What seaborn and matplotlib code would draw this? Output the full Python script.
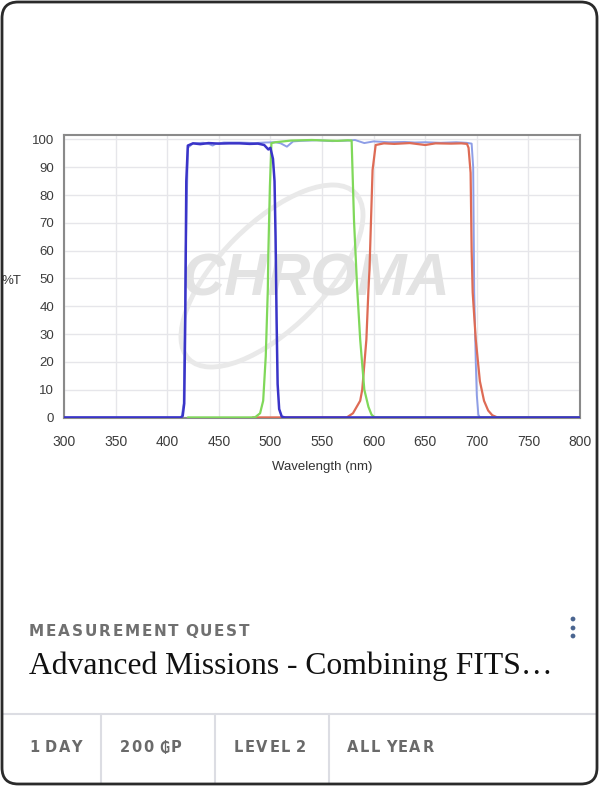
import matplotlib
matplotlib.use("Agg")
import numpy as np
import pandas as pd
import matplotlib.pyplot as plt
import seaborn as sns
from matplotlib.patches import FancyBboxPatch, Arc, Circle
from matplotlib.transforms import IdentityTransform

# Filter transmission curves (wavelength nm, %T)
blue_nm = [300, 413, 415, 416.5, 417.5, 418.5, 420, 425, 432, 440, 450, 460, 470, 480, 488,
           494, 498, 500, 502.5, 504, 505, 506, 507, 508.5, 511, 514, 800]
blue_t = [0, 0, 0.5, 5, 35, 85, 97.8, 98.6, 98.3, 98.7, 98.5, 98.6, 98.6, 98.4, 98.5,
          98.0, 96.4, 97.0, 93, 85, 65, 35, 12, 3, 0.3, 0, 0]

lav_nm = [300, 414, 416, 418, 420, 425, 435, 441, 444, 447, 455, 470, 485, 495, 505, 510,
          516, 522, 530, 545, 560, 575, 582, 591, 600, 615, 630, 640, 650, 665, 680, 690,
          695, 696.5, 697.5, 699, 700, 701.5, 703, 800]
lav_t = [0, 0, 5, 60, 97, 98.6, 98.8, 98.3, 97.8, 98.4, 98.9, 98.9, 98.7, 98.9, 99.0, 98.6,
         97.4, 99.3, 99.5, 99.7, 99.4, 99.6, 99.8, 98.7, 99.3, 99.0, 99.1, 98.9, 99.0, 98.8,
         99.0, 98.8, 98.5, 90, 45, 20, 8, 1, 0, 0]

green_nm = [420, 485, 490, 493, 495.5, 496.5, 497.5, 498, 499.5, 501, 505, 520, 540, 555,
            565, 575, 578.7, 581, 584, 587, 591, 595, 598, 601, 800]
green_t = [0, 0, 1.5, 6, 22, 34, 46, 59, 83, 98.7, 99.0, 99.6, 99.8, 99.6, 99.5, 99.7,
           99.6, 71, 47, 28, 10, 3.8, 1, 0, 0]

red_nm = [483, 574, 580, 587, 589, 593, 595, 596, 597.5, 599, 602, 610, 620, 635, 650, 660,
          675, 685, 690.5, 692, 694, 695, 696, 699, 703, 707, 711, 715, 720, 800]
red_t = [0, 0, 1.5, 6, 10, 28, 46, 53, 71, 89, 98, 98.6, 98.4, 98.7, 98.0, 98.6,
         98.5, 98.6, 98.4, 97, 88, 60, 45, 28, 13, 6, 2.5, 0.8, 0, 0]

y_ticks = list(range(0, 101, 10))
x_ticks = list(range(300, 801, 50))

category = "MEASUREMENT QUEST"
title = "Advanced Missions - Combining FITS\u2026"
footer = ["1 DAY", "200 \u20b2P", "LEVEL 2", "ALL YEAR"]

W, H = 600, 786
sns.set_style("white")
fig = plt.figure(figsize=(W / 100, H / 100), dpi=100)
fig.patch.set_facecolor("white")


def fx(x):
    return x / W


def fy(y):
    return 1 - y / H


# card outline
card = FancyBboxPatch((fx(2), fy(784)), fx(595), 782 / H,
                      boxstyle="round,pad=0,rounding_size=0.027",
                      transform=fig.transFigure, facecolor="none",
                      edgecolor="#2a2a2a", linewidth=2, mutation_aspect=W / H, zorder=10)
fig.patches.append(card)

ax = fig.add_axes([fx(64), fy(418), fx(516), 283 / H])
ax.set_facecolor("white")

curves = [("lav", lav_nm, lav_t, "#8e9ee6", 1.4, 2),
          ("red", red_nm, red_t, "#de6b55", 1.6, 3),
          ("green", green_nm, green_t, "#80d85a", 1.6, 4),
          ("blue", blue_nm, blue_t, "#3a34c8", 1.8, 5)]
for name, xs, ys, col, lw, z in curves:
    df = pd.DataFrame({"nm": xs, "T": ys})
    sns.lineplot(data=df, x="nm", y="T", ax=ax, color=col, linewidth=lw,
                 sort=False, estimator=None, zorder=z)

# faint watermark, placed in pixel coordinates
px = IdentityTransform()
ax.add_patch(Arc((272, H - 276), 235, 105, angle=45, theta1=0, theta2=360,
                 color="#e9e9e9", linewidth=3.5, zorder=1, transform=px))
ax.text(315, H - 280, "CHROMA", ha="center", va="center", fontsize=43, fontweight="bold",
        fontstyle="italic", color="#e3e3e3", zorder=1.5, family="Liberation Sans",
        transform=px)

ax.set_xlim(300, 800)
ax.set_ylim(-0.2, 101.6)
ax.set_xticks(x_ticks)
ax.set_yticks(y_ticks)
ax.grid(True, color="#e6e6ea", linewidth=1)
ax.set_axisbelow(True)
for s in ax.spines.values():
    s.set_color("#8a8a8a")
    s.set_linewidth(1.5)
ax.tick_params(length=0, labelcolor="#3c3c3c")
ax.tick_params(axis="y", pad=7, labelsize=9.5)
ax.tick_params(axis="x", pad=12, labelsize=10)
for lab in ax.get_xticklabels() + ax.get_yticklabels():
    lab.set_family("Liberation Sans")
ax.set_xlabel("")
ax.set_ylabel("")
fig.text(fx(2), fy(281), "%T", fontsize=9.5, color="#333333", va="center", ha="left",
         family="Liberation Sans")
fig.text(fx(322), fy(467), "Wavelength (nm)", fontsize=9.5, color="#333333",
         va="center", ha="center", family="Liberation Sans")

renderer = fig.canvas.get_renderer()


def spaced(x, y, s, spacing, **kw):
    # letter-spaced text placed in pixel coordinates (y from top)
    for ch in s:
        t = fig.text(x, H - y, ch, transform=IdentityTransform(), va="center", ha="left", **kw)
        w = t.get_window_extent(renderer).width
        if ch == " ":
            w = kw.get("fontsize", 10) * 0.25
        x += w + spacing


spaced(29, 631, category, 1.8, fontsize=11, color="#707070", fontweight="semibold")
fig.text(fx(29), fy(666), title, fontsize=22.8, color="#111111", va="center", ha="left",
         family="Liberation Serif")

for yy in [619, 628, 636]:
    fig.patches.append(Circle((573, H - yy), 2.4, transform=IdentityTransform(),
                              facecolor="#4a6590", edgecolor="none"))

# footer
fig.add_artist(plt.Line2D([fx(3), fx(596)], [fy(714), fy(714)], color="#dcdde3", linewidth=1.5))
for xx in [100.5, 215, 328.5]:
    fig.add_artist(plt.Line2D([fx(xx), fx(xx)], [fy(714), fy(783)], color="#dcdde3",
                              linewidth=1.5))
for xx, lab in zip([29, 120, 234, 347], footer):
    spaced(xx, 748, lab, 1.5, fontsize=10.5, color="#6a6a6a", fontweight="semibold")

fig.savefig("out.png", dpi=100, facecolor="white")
